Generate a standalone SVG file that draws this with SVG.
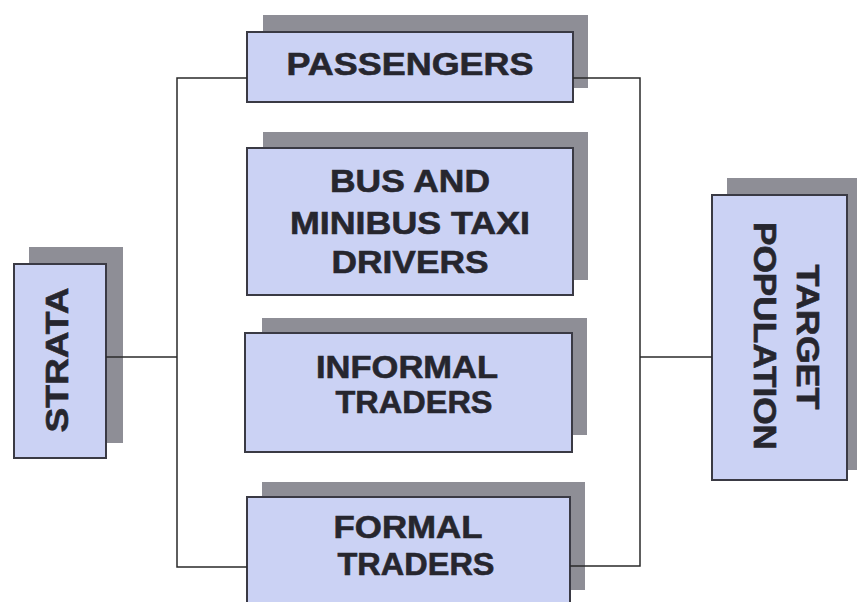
<svg xmlns="http://www.w3.org/2000/svg" width="857" height="602" viewBox="0 0 857 602">
<style>
.sh{fill:#8e8e96;stroke:none}
.bx{fill:#cbd2f4;stroke:#3a3a44;stroke-width:2}
.t{font-family:"Liberation Sans",Arial,sans-serif;font-weight:bold;font-size:32px;fill:#26262e;stroke:#26262e;stroke-width:0.6;text-anchor:middle}
.c{fill:none;stroke:#2a2a2a;stroke-width:1.5}
</style>
<rect width="857" height="602" fill="#ffffff"/>
<g id="strata">
<rect class="sh" x="29" y="247" width="94" height="196"/>
<rect class="bx" x="14" y="264" width="92" height="194"/>
<text class="t" transform="translate(68,360) rotate(-90)" textLength="145" lengthAdjust="spacingAndGlyphs">STRATA</text>
</g>
<g id="passengers">
<rect class="sh" x="263" y="15" width="325" height="73"/>
<rect class="bx" x="247" y="32" width="326" height="70"/>
<text class="t" x="410" y="75" textLength="247" lengthAdjust="spacingAndGlyphs">PASSENGERS</text>
</g>
<g id="drivers">
<rect class="sh" x="263" y="132" width="325" height="148"/>
<rect class="bx" x="247" y="148" width="326" height="147"/>
<text class="t" x="410" y="192" textLength="160" lengthAdjust="spacingAndGlyphs">BUS AND</text>
<text class="t" x="410" y="234" textLength="240" lengthAdjust="spacingAndGlyphs">MINIBUS TAXI</text>
<text class="t" x="410" y="273" textLength="157" lengthAdjust="spacingAndGlyphs">DRIVERS</text>
</g>
<g id="informal">
<rect class="sh" x="262" y="318" width="325" height="117"/>
<rect class="bx" x="245" y="333" width="327" height="119"/>
<text class="t" x="407" y="378" textLength="182" lengthAdjust="spacingAndGlyphs">INFORMAL</text>
<text class="t" x="414" y="413" textLength="157" lengthAdjust="spacingAndGlyphs">TRADERS</text>
</g>
<g id="formal">
<rect class="sh" x="262" y="482" width="323" height="108"/>
<rect class="bx" x="247" y="497" width="323" height="110"/>
<text class="t" x="408" y="538" textLength="149" lengthAdjust="spacingAndGlyphs">FORMAL</text>
<text class="t" x="416" y="575" textLength="157" lengthAdjust="spacingAndGlyphs">TRADERS</text>
</g>
<g id="target">
<rect class="sh" x="727" y="178" width="130" height="292"/>
<rect class="bx" x="712" y="195" width="135" height="285"/>
<text class="t" transform="translate(797,337) rotate(90)" textLength="145" lengthAdjust="spacingAndGlyphs">TARGET</text>
<text class="t" transform="translate(754,336) rotate(90)" textLength="228" lengthAdjust="spacingAndGlyphs">POPULATION</text>
</g>
<g id="connectors">
<polyline class="c" points="247,78 177,78 177,567 247,567"/>
<line class="c" x1="106" y1="357" x2="177" y2="357"/>
<polyline class="c" points="573,78 640,78 640,566 570,566"/>
<line class="c" x1="640" y1="357" x2="712" y2="357"/>
</g>
</svg>
